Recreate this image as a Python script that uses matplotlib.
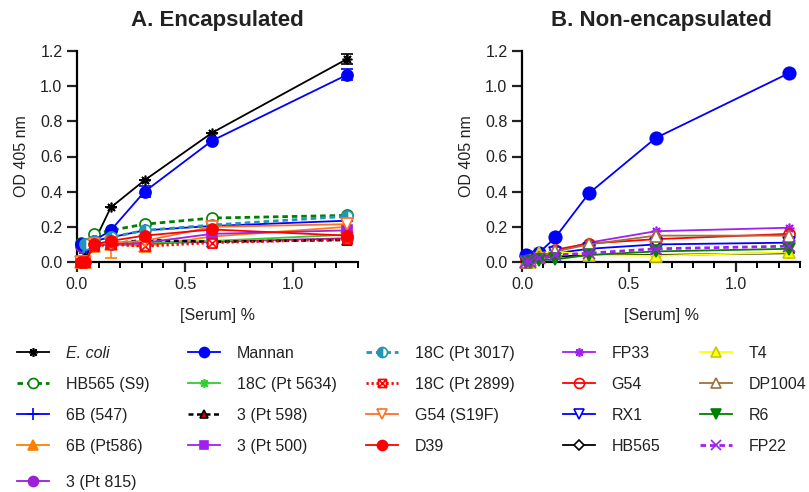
import matplotlib
matplotlib.use("Agg")
import matplotlib.pyplot as plt
from matplotlib.path import Path
import numpy as np

plt.rcParams['font.family'] = ['Liberation Sans', 'DejaVu Sans']

serum = [0.0195, 0.039, 0.078, 0.156, 0.3125, 0.625, 1.25]

# Panel A: encapsulated
ecoli = [0.00, 0.02, 0.11, 0.31, 0.465, 0.735, 1.155]
hb565_s9 = [0.11, 0.10, 0.16, 0.18, 0.215, 0.25, 0.265]
b6_547 = [0.00, 0.05, 0.12, 0.14, 0.18, 0.205, 0.235]
b6_pt586 = [0.00, 0.00, 0.09, 0.10, 0.09, 0.145, 0.20]
t3_pt815 = [0.09, 0.08, 0.10, 0.10, 0.105, 0.115, 0.135]
mannan_a = [0.10, 0.09, 0.12, 0.18, 0.40, 0.69, 1.065]
c18_pt5634 = [0.00, 0.00, 0.10, 0.10, 0.11, 0.12, 0.155]
t3_pt598 = [0.00, 0.02, 0.10, 0.105, 0.125, 0.115, 0.125]
t3_pt500 = [0.00, 0.00, 0.10, 0.10, 0.11, 0.16, 0.18]
c18_pt3017 = [0.00, 0.10, 0.12, 0.14, 0.18, 0.21, 0.26]
c18_pt2899 = [0.00, 0.00, 0.09, 0.10, 0.09, 0.11, 0.13]
g54_s19f = [0.00, 0.00, 0.10, 0.11, 0.12, 0.20, 0.215]
d39 = [0.00, 0.00, 0.10, 0.12, 0.15, 0.185, 0.15]

ecoli_err = [0, 0, 0, 0, 0, 0, 0.03]
mannan_a_err = [0, 0, 0, 0, 0.03, 0, 0.03]
b6_pt586_err = [0, 0, 0, 0.08, 0, 0, 0]

# Panel B: non-encapsulated
mannan_b = [0.04, 0.03, 0.05, 0.14, 0.39, 0.705, 1.075]
fp33 = [0.00, 0.01, 0.03, 0.06, 0.11, 0.175, 0.195]
g54 = [0.01, 0.01, 0.03, 0.07, 0.105, 0.13, 0.16]
rx1 = [0.00, 0.01, 0.02, 0.05, 0.075, 0.10, 0.11]
hb565 = [0.00, 0.00, 0.02, 0.03, 0.04, 0.04, 0.05]
t4 = [0.00, 0.00, 0.05, 0.06, 0.04, 0.035, 0.055]
dp1004 = [0.00, 0.01, 0.03, 0.06, 0.10, 0.15, 0.15]
r6 = [0.00, 0.00, 0.01, 0.015, 0.04, 0.06, 0.075]
fp22 = [0.00, 0.00, 0.02, 0.04, 0.05, 0.075, 0.09]
t4_err = [0, 0, 0.03, 0, 0, 0, 0]

x_ticks = [0, 0.5, 1.0]
x_ticklabels = ['0.0', '0.5', '1.0']
y_ticks = [0, 0.2, 0.4, 0.6, 0.8, 1.0, 1.2]
y_ticklabels = ['0.0', '0.2', '0.4', '0.6', '0.8', '1.0', '1.2']

# box with X marker
boxx = Path([(-1, -1), (1, -1), (1, 1), (-1, 1), (-1, -1), (-1, -1), (1, 1), (-1, 1), (1, -1)],
            [Path.MOVETO, Path.LINETO, Path.LINETO, Path.LINETO, Path.CLOSEPOLY,
             Path.MOVETO, Path.LINETO, Path.MOVETO, Path.LINETO])
star8 = (8, 2, 0)
DASH = (0, (2.0, 1.4))
DOT = (0, (0.8, 1.0))

fig = plt.figure(figsize=(8.09, 4.92), dpi=100)
axA = fig.add_axes([77/809, 1-262/492, 281/809, 211/492])
axB = fig.add_axes([522/809, 1-262/492, 278/809, 211/492])

def series(ax, y, color, marker, ms=7.5, ls='-', lw=1.3, mfc=None, mec=None, fs='full', err=None, label=None, mew=1.2, alt='white'):
    if mfc is None:
        mfc = color
    if mec is None:
        mec = color
    if err is not None:
        ax.errorbar(serum, y, yerr=err, fmt='none', ecolor=color, elinewidth=1.2, capsize=4, capthick=1.2, clip_on=False, zorder=3)
    line, = ax.plot(serum, y, color=color, marker=marker, ms=ms, ls=ls, lw=lw, mfc=mfc, mec=mec,
                    fillstyle=fs, markerfacecoloralt=alt, mew=mew, clip_on=False, label=label, zorder=4)
    return line

hA = []
hA.append(series(axA, ecoli, 'black', star8, ms=7, err=ecoli_err, label='E. coli'))
hA.append(series(axA, hb565_s9, '#008000', 'o', ms=8, ls=DASH, lw=2, mfc='white', label='HB565 (S9)'))
hA.append(series(axA, b6_547, '#0000ff', '+', ms=9, label='6B (547)'))
hA.append(series(axA, b6_pt586, '#ff7f00', '^', ms=8, err=b6_pt586_err, label='6B (Pt586)'))
hA.append(series(axA, t3_pt815, '#9b1fd6', 'o', ms=8, label='3 (Pt 815)'))
hA.append(series(axA, mannan_a, '#0000ff', 'o', ms=8, err=mannan_a_err, label='Mannan'))
hA.append(series(axA, c18_pt5634, '#33cc33', star8, ms=7, label='18C (Pt 5634)'))
hA.append(series(axA, t3_pt598, 'black', '^', ms=7, ls=DASH, lw=1.8, mfc='#cc0000', mec='black', label='3 (Pt 598)'))
hA.append(series(axA, t3_pt500, '#a020f0', 's', ms=7, label='3 (Pt 500)'))
hA.append(series(axA, c18_pt3017, '#2196b6', 'o', ms=8, ls=DASH, lw=2, fs='left', label='18C (Pt 3017)'))
hA.append(series(axA, c18_pt2899, '#ff0000', boxx, ms=6.5, ls=DOT, lw=2, mfc='white', label='18C (Pt 2899)'))
hA.append(series(axA, g54_s19f, '#ff7020', 'v', ms=8, mfc='white', label='G54 (S19F)'))
hA.append(series(axA, d39, '#ff0000', 'o', ms=8, label='D39'))

series(axB, mannan_b, '#0000ff', 'o', ms=9)
hB = []
hB.append(series(axB, fp33, '#a020f0', star8, ms=7, label='FP33'))
hB.append(series(axB, g54, '#ff0000', 'o', ms=8, mfc='none', label='G54'))
hB.append(series(axB, rx1, '#0000ff', 'v', ms=8, mfc='white', label='RX1'))
hB.append(series(axB, hb565, 'black', 'D', ms=5.5, mfc='white', label='HB565'))
hB.append(series(axB, t4, '#ffff00', '^', ms=8, mfc='#ffff00', mec='#c8c800', err=t4_err, label='T4'))
hB.append(series(axB, dp1004, '#a0703a', '^', ms=8, mfc='white', label='DP1004'))
hB.append(series(axB, r6, '#008000', 'v', ms=8, label='R6'))
hB.append(series(axB, fp22, '#a020f0', 'x', ms=8, ls=DASH, lw=2, label='FP22'))

for ax, title in [(axA, 'A. Encapsulated'), (axB, 'B. Non-encapsulated')]:
    ax.set_xlim(0, 1.3)
    ax.set_ylim(0, 1.2)
    ax.set_xticks(x_ticks)
    ax.set_xticklabels(x_ticklabels)
    ax.set_xticks(np.arange(0.1, 1.31, 0.1), minor=True)
    ax.set_yticks(y_ticks)
    ax.set_yticklabels(y_ticklabels)
    ax.spines['top'].set_visible(False)
    ax.spines['right'].set_visible(False)
    ax.spines['left'].set_linewidth(1.6)
    ax.spines['bottom'].set_linewidth(1.6)
    ax.tick_params(axis='both', which='major', labelsize=11.5, width=1.6, length=7, colors='#222222', labelcolor='#222222')
    ax.tick_params(axis='x', which='minor', width=1.4, length=4.5)
    ax.set_xlabel('[Serum] %', fontsize=11.5, labelpad=12, color='#222222')
    ax.set_ylabel('OD 405 nm', fontsize=11.5, labelpad=8, color='#222222')
    ax.set_title(title, fontsize=16, fontweight='bold', pad=18, color='#222222')

legkw = dict(frameon=False, fontsize=11.5, handlelength=2.0, handletextpad=1.05,
             labelspacing=1.0, borderpad=0, borderaxespad=0, loc='upper left', markerscale=0.9)

def col_legend(handles, xpix, ypix):
    leg = fig.legend(handles=handles, bbox_to_anchor=(xpix/809, 1-ypix/492), **legkw)
    for txt in leg.get_texts():
        txt.set_color('#222222')
        if txt.get_text() == 'E. coli':
            txt.set_fontstyle('italic')
    return leg

col_legend(hA[0:4], 17, 346)
col_legend(hA[4:5], 17, 475)
col_legend(hA[5:9], 188, 346)
col_legend(hA[9:13], 366, 346)
col_legend(hB[0:4], 563, 346)
col_legend(hB[4:8], 700, 346)

fig.savefig('out.png', dpi=100)
